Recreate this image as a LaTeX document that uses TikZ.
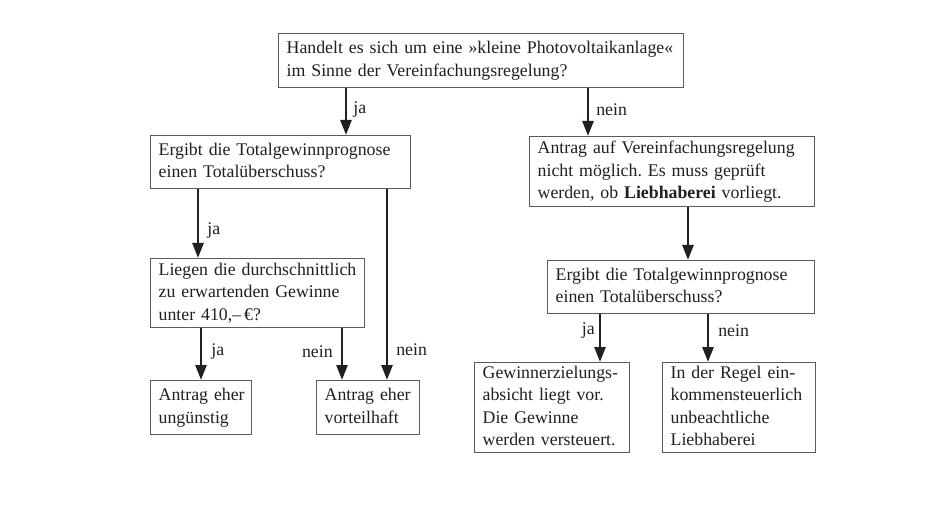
\documentclass[tikz,border=0pt]{standalone}
\usepackage{fontspec}
\setmainfont{Liberation Serif}
\usetikzlibrary{arrows.meta,calc}
\definecolor{ink}{HTML}{231F20}
\definecolor{frame}{HTML}{5A5A5A}
\newcommand\bt[1]{\hspace*{6pt}\begin{tabular}{@{}l@{}}#1\end{tabular}}
\frenchspacing
\begin{document}
\begin{tikzpicture}[x=1pt,y=-1pt,
  box/.style={draw=frame,line width=1.3pt,fill=white,anchor=north west,
    inner xsep=2pt,inner ysep=0pt,align=left,text=ink,
    font=\fontsize{17.8}{22.5}\selectfont\frenchspacing},
  flow/.style={draw=ink,line width=2.6pt,-{Triangle[width=11pt,length=15pt]}},
  lab/.style={text=ink,font=\fontsize{17.8}{20}\selectfont,inner sep=0pt}]
\useasboundingbox[fill=white] (0,0) rectangle (948,513);
% boxes: width w -> text width w-4
\node[box,text width=401pt,minimum width=405pt,minimum height=54pt] (A) at (278,33)
  {\bt{Handelt es sich um eine »kleine Photovoltaikanlage«\\im Sinne der Vereinfachungsregelung?}};
\node[box,text width=256pt,minimum width=260pt,minimum height=53pt] (B) at (150,135)
  {\bt{Ergibt die Totalgewinnprognose\\einen Totalüberschuss?}};
\node[box,text width=210pt,minimum width=214pt,minimum height=69pt] (C) at (150,258)
  {\bt{Liegen die durchschnittlich\\zu erwartenden Gewinne\\unter 410,–\,€?}};
\node[box,text width=97pt,minimum width=101pt,minimum height=54pt] (D) at (150,380)
  {\bt{Antrag eher\\ungünstig}};
\node[box,text width=99pt,minimum width=103pt,minimum height=54pt] (E) at (316,380)
  {\bt{Antrag eher\\vorteilhaft}};
\node[box,text width=281pt,minimum width=285pt,minimum height=70pt] (F) at (529,136)
  {\bt{Antrag auf Vereinfachungsregelung\\nicht möglich. Es muss geprüft\\werden, ob \textbf{Liebhaberei} vorliegt.}};
\node[box,text width=263pt,minimum width=267pt,minimum height=53pt] (G) at (547,260)
  {\bt{Ergibt die Totalgewinnprognose\\einen Totalüberschuss?}};
\node[box,text width=151pt,minimum width=155pt,minimum height=90pt] (H) at (474,362)
  {\bt{Gewinnerzielungs-\\absicht liegt vor.\\Die Gewinne\\werden versteuert.}};
\node[box,text width=149pt,minimum width=153pt,minimum height=90pt] (I) at (662,362)
  {\bt{In der Regel ein-\\kommensteuerlich\\unbeachtliche\\Liebhaberei}};
% connectors
\draw[flow] ([xshift=68pt]A.south west) -- ([xshift=196pt]B.north west)
  node[lab,pos=0.45,right=6pt] {ja};
\draw[flow] ([xshift=310pt]A.south west) -- ([xshift=59pt]F.north west)
  node[lab,pos=0.45,right=7pt] {nein};
\draw[flow] ([xshift=48pt]B.south west) -- ([xshift=48pt]C.north west)
  node[lab,pos=0.6,right=8pt] {ja};
\draw[flow] ([xshift=237pt]B.south west) -- ([xshift=71pt]E.north west)
  node[lab,pos=0.84,right=8pt] {nein};
\draw[flow] ([xshift=51pt]C.south west) -- ([xshift=51pt]D.north west)
  node[lab,pos=0.45,right=9pt] {ja};
\draw[flow] ([xshift=192pt]C.south west) -- ([xshift=26pt]E.north west)
  node[lab,pos=0.45,left=8pt] {nein};
\draw[flow] ([xshift=159pt]F.south west) -- ([xshift=141pt]G.north west);
\draw[flow] ([xshift=53pt]G.south west) -- ([xshift=126pt]H.north west)
  node[lab,pos=0.35,left=4pt] {ja};
\draw[flow] ([xshift=161pt]G.south west) -- ([xshift=46pt]I.north west)
  node[lab,pos=0.35,right=9pt] {nein};
\end{tikzpicture}
\end{document}
